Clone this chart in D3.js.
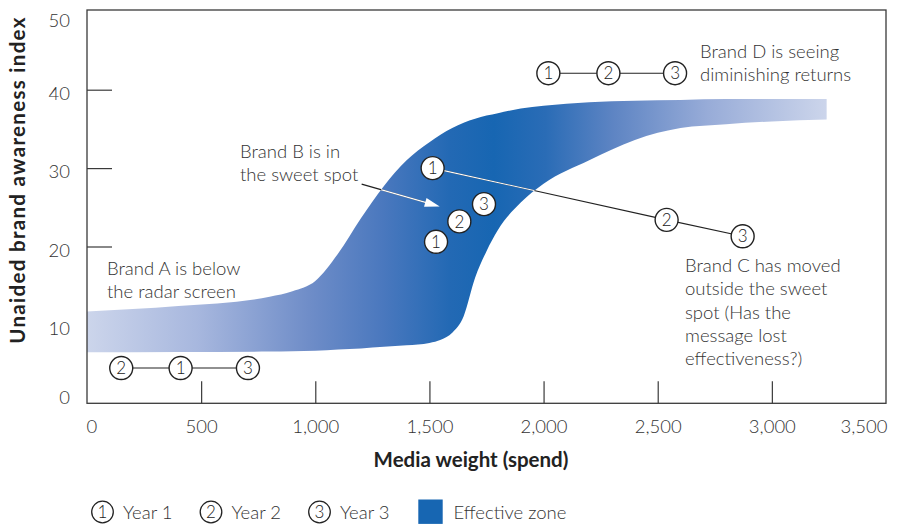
<!DOCTYPE html>
<html>
<head>
<meta charset="utf-8">
<script src="https://cdn.jsdelivr.net/npm/d3@7"></script>
<style>
  body { margin: 0; background: #fff; }
  svg text { font-family: Lato, "Open Sans", sans-serif; }
</style>
</head>
<body>
<svg id="chart" width="897" height="524"></svg>
<script>
// ---- Data -------------------------------------------------------------
// Effective zone: lower and upper awareness bounds along media spend
const zoneSpend = [0, 400, 800, 900, 1000, 1100, 1200, 1300, 1400, 1500, 1550, 1600, 1650, 1700, 1750, 1800, 1900, 2000, 2200, 2400, 2600, 2800, 3000, 3240];
const zoneUpper = [11.7, 12.4, 13.6, 14.3, 15.6, 19.1, 23.6, 27.7, 31.0, 33.3, 34.3, 35.1, 35.8, 36.3, 36.7, 37.0, 37.6, 37.95, 38.4, 38.6, 38.7, 38.8, 38.8, 38.8];
const zoneLower = [6.5, 6.55, 6.6, 6.65, 6.7, 6.85, 7.0, 7.2, 7.4, 7.7, 8.1, 9.0, 11.1, 16.0, 19.4, 22.1, 25.6, 28.0, 31.0, 33.6, 35.1, 35.6, 35.95, 36.2];

// Brand trajectories (year 1, 2, 3)
const years = [1, 2, 3];
const brandASpend = [410, 150, 705];
const brandAAware = [4.5, 4.5, 4.5];
const brandBSpend = [1529, 1631, 1739];
const brandBAware = [20.6, 23.2, 25.4];
const brandCSpend = [1514, 2539, 2872];
const brandCAware = [30.0, 23.4, 21.3];
const brandDSpend = [2021, 2284, 2576];
const brandDAware = [42.1, 42.1, 42.1];

// Axis ticks
const xTicks = [0, 500, 1000, 1500, 2000, 2500, 3000, 3500];
const yTicks = [0, 10, 20, 30, 40, 50];

// Annotation arrow (spend, awareness): from label to Brand B
const arrowFrom = [1203, 27.95];
const arrowTo = [1545, 25.1];

// ---- Layout -----------------------------------------------------------
const svg = d3.select("#chart");
const x = d3.scaleLinear().domain([0, 3500]).range([87, 886]);
const y = d3.scaleLinear().domain([0, 50]).range([403.3, 11.3]);
const textCol = "#333";
const lineCol = "#3a3a3a";
const fontSize = "18.5px";

const zone = zoneSpend.map((s, i) => ({ s, lo: zoneLower[i], hi: zoneUpper[i] }));
const area = d3.area()
  .x(d => x(d.s))
  .y0(d => y(d.lo))
  .y1(d => y(d.hi))
  .curve(d3.curveMonotoneX);

const defs = svg.append("defs");
const grad = defs.append("linearGradient")
  .attr("id", "zoneGrad")
  .attr("gradientUnits", "userSpaceOnUse")
  .attr("x1", x(0)).attr("x2", x(3240)).attr("y1", 0).attr("y2", 0);
[[0, "#ccd5eb"], [0.15, "#a7b7de"], [0.3, "#6f8dc8"], [0.4, "#4a78be"], [0.49, "#2369b4"],
 [0.55, "#1766b2"], [0.62, "#2a6cb6"], [0.71, "#5d84c3"], [0.84, "#98acd8"], [1, "#ccd5eb"]]
  .forEach(([o, c]) => grad.append("stop").attr("offset", o).attr("stop-color", c));

defs.append("clipPath").attr("id", "zoneClip")
  .append("path").attr("d", area(zone));

// ---- Axes (ticks point inward) ---------------------------------------
const xAxis = d3.axisBottom(x).tickValues(xTicks)
  .tickSizeInner(-22).tickSizeOuter(0).tickPadding(17)
  .tickFormat(d3.format(","));
const gx = svg.append("g").attr("transform", `translate(0,${y(0)})`).call(xAxis);
gx.select(".domain").remove();
gx.selectAll(".tick line").attr("stroke", lineCol).attr("stroke-width", 1.2)
  .filter(d => d === 0 || d === 3500).remove();
gx.selectAll(".tick text").attr("fill", textCol).style("font-size", fontSize).style("font-weight", 300)
  .attr("text-anchor", d => d === 0 ? "start" : d === 3500 ? "end" : "middle")
  .attr("dx", d => d === 0 ? -1 : d === 3500 ? 1 : 0);

const yAxis = d3.axisLeft(y).tickValues(yTicks)
  .tickSizeInner(-25).tickSizeOuter(0).tickPadding(17);
const gy = svg.append("g").attr("transform", `translate(${x(0)},0)`).call(yAxis);
gy.select(".domain").remove();
gy.selectAll(".tick line").attr("stroke", lineCol).attr("stroke-width", 1.2)
  .filter(d => d === 0 || d === 50).remove();
gy.selectAll(".tick text").attr("fill", textCol).style("font-size", fontSize).style("font-weight", 300)
  .attr("dy", "0.36em")
  .attr("y", d => Math.max(20, Math.min(397, y(d) + 3)) - y(d));

// Effective zone band
svg.append("path").attr("d", area(zone)).attr("fill", "url(#zoneGrad)");

// Plot frame
svg.append("rect")
  .attr("x", x(0)).attr("y", 10)
  .attr("width", x(3500) - x(0)).attr("height", y(0) - 10)
  .attr("fill", "none").attr("stroke", lineCol).attr("stroke-width", 1.3);

// Axis titles
svg.append("text")
  .attr("transform", "translate(17,180) rotate(-90)")
  .attr("text-anchor", "middle").attr("dominant-baseline", "central")
  .attr("fill", "#222").style("font-size", "20.5px").style("font-weight", 700)
  .style("letter-spacing", "1.3px")
  .text("Unaided brand awareness index");
svg.append("text")
  .attr("x", 471).attr("y", 467).attr("text-anchor", "middle")
  .attr("fill", "#222").style("font-size", "20.5px").style("font-weight", 700)
  .text("Media weight (spend)");

// ---- Brand paths -----------------------------------------------------
function pts(sp, aw) { return sp.map((s, i) => ({ s, a: aw[i], yr: years[i] })); }
const brands = [
  { id: "A", p: pts(brandASpend, brandAAware), line: true },
  { id: "B", p: pts(brandBSpend, brandBAware), line: false },
  { id: "C", p: pts(brandCSpend, brandCAware), line: true },
  { id: "D", p: pts(brandDSpend, brandDAware), line: true }
];
const lineGen = d3.line().x(d => x(d.s)).y(d => y(d.a));

// connector lines: dark on white, white where they cross the zone
brands.filter(b => b.line).forEach(b => {
  svg.append("path").attr("d", lineGen(b.p))
    .attr("fill", "none").attr("stroke", "#222").attr("stroke-width", 1.1);
  svg.append("path").attr("d", lineGen(b.p)).attr("clip-path", "url(#zoneClip)")
    .attr("fill", "none").attr("stroke", "#fff").attr("stroke-width", 1.1);
});

// annotation arrow toward Brand B
const ax0 = x(arrowFrom[0]), ay0 = y(arrowFrom[1]);
const ax1 = x(arrowTo[0]), ay1 = y(arrowTo[1]);
const len = Math.hypot(ax1 - ax0, ay1 - ay0);
const ux = (ax1 - ax0) / len, uy = (ay1 - ay0) / len;
const headL = 15, headW = 4.5;
const bx = ax1 - ux * headL, by = ay1 - uy * headL;
const arrowLine = `M${ax0},${ay0}L${bx + ux * 2},${by + uy * 2}`;
svg.append("path").attr("d", arrowLine).attr("stroke", "#222").attr("stroke-width", 1.3).attr("fill", "none");
svg.append("path").attr("d", arrowLine).attr("clip-path", "url(#zoneClip)")
  .attr("stroke", "#fff").attr("stroke-width", 1.3).attr("fill", "none");
svg.append("path")
  .attr("d", `M${ax1},${ay1}L${bx - uy * headW},${by + ux * headW}L${bx + uy * headW},${by - ux * headW}Z`)
  .attr("fill", "#fff");

// year markers
brands.forEach(b => {
  const g = svg.append("g").selectAll("g").data(b.p).join("g")
    .attr("transform", d => `translate(${x(d.s)},${y(d.a)})`);
  g.append("circle").attr("r", 11.5).attr("fill", "#fff")
    .attr("stroke", "#222").attr("stroke-width", 1.4);
  g.append("text").attr("text-anchor", "middle").attr("dy", "0.36em")
    .attr("fill", "#222").style("font-size", "17px").style("font-weight", 300).text(d => d.yr);
});

// ---- Annotations ------------------------------------------------------
const notes = [
  { x: 107, y: 275, lines: ["Brand A is below", "the radar screen"] },
  { x: 240, y: 158, lines: ["Brand B is in", "the sweet spot"] },
  { x: 700, y: 58, lines: ["Brand D is seeing", "diminishing returns"] },
  { x: 685, y: 272, lines: ["Brand C has moved", "outside the sweet", "spot (Has the", "message lost", "effectiveness?)"] }
];
notes.forEach(n => {
  const t = svg.append("text").attr("x", n.x).attr("y", n.y)
    .attr("fill", textCol).style("font-size", fontSize).style("font-weight", 300);
  n.lines.forEach((l, i) => t.append("tspan").attr("x", n.x).attr("dy", i === 0 ? 0 : 23.3).text(l));
});

// ---- Legend -----------------------------------------------------------
const legY = 512;
const legItems = [
  { cx: 102.5, tx: 123, yr: 1 },
  { cx: 211, tx: 231.5, yr: 2 },
  { cx: 319.5, tx: 340, yr: 3 }
];
legItems.forEach(d => {
  svg.append("circle").attr("cx", d.cx).attr("cy", legY).attr("r", 10.8)
    .attr("fill", "#fff").attr("stroke", "#222").attr("stroke-width", 1.3);
  svg.append("text").attr("x", d.cx).attr("y", legY).attr("dy", "0.36em")
    .attr("text-anchor", "middle").attr("fill", "#222").style("font-size", "17px").style("font-weight", 300).text(d.yr);
  svg.append("text").attr("x", d.tx).attr("y", legY).attr("dy", "0.36em")
    .attr("fill", textCol).style("font-size", fontSize).style("font-weight", 300).text("Year " + d.yr);
});
svg.append("rect").attr("x", 418.3).attr("y", 499.5).attr("width", 24.4).attr("height", 24.4)
  .attr("fill", "#1766b2");
svg.append("text").attr("x", 453.5).attr("y", legY).attr("dy", "0.36em")
  .attr("fill", textCol).style("font-size", fontSize).style("font-weight", 300).text("Effective zone");
</script>
</body>
</html>
